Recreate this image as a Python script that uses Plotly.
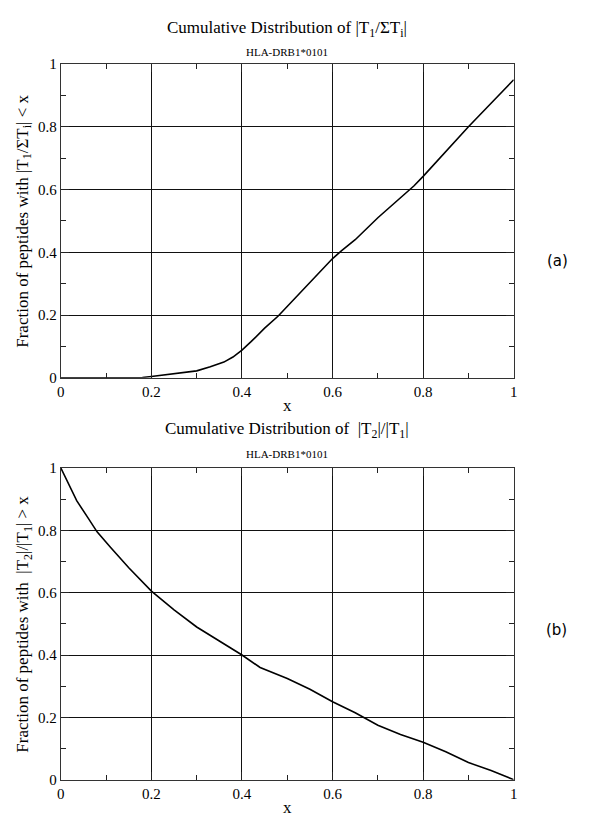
import plotly.graph_objects as go

# Panel (a): cumulative distribution of |T1/sum Ti|
x_a = [0, 0.1, 0.18, 0.2, 0.25, 0.3, 0.33, 0.36, 0.38, 0.4, 0.42, 0.45, 0.48, 0.5,
       0.55, 0.6, 0.62, 0.65, 0.7, 0.75, 0.78, 0.8, 0.85, 0.9, 0.95, 1.0]
y_a = [0, 0, 0.001, 0.004, 0.012, 0.022, 0.035, 0.05, 0.066, 0.088, 0.115, 0.158, 0.197, 0.228,
       0.305, 0.38, 0.405, 0.44, 0.51, 0.575, 0.612, 0.642, 0.722, 0.8, 0.875, 0.95]

# Panel (b): cumulative distribution of |T2|/|T1|
x_b = [0, 0.02, 0.035, 0.06, 0.08, 0.11, 0.15, 0.2, 0.25, 0.3, 0.35, 0.4, 0.44, 0.5,
       0.55, 0.6, 0.65, 0.7, 0.75, 0.8, 0.85, 0.9, 0.95, 1.0]
y_b = [1.0, 0.94, 0.895, 0.84, 0.795, 0.745, 0.68, 0.605, 0.545, 0.49, 0.445, 0.40, 0.36, 0.325,
       0.29, 0.25, 0.215, 0.175, 0.145, 0.12, 0.09, 0.055, 0.03, 0.0]

tick_vals = [0, 0.2, 0.4, 0.6, 0.8, 1]
tick_text = ["0", "0.2", "0.4", "0.6", "0.8", "1"]

W, H = 600, 817
SERIF = "Liberation Serif"

def px_x(p):
    return p / W

def px_y(p):
    return 1 - p / H

fig = go.Figure()
fig.add_trace(go.Scatter(x=x_a, y=y_a, mode="lines", line=dict(color="black", width=1.6),
                         xaxis="x", yaxis="y", showlegend=False, hoverinfo="skip"))
fig.add_trace(go.Scatter(x=x_b, y=y_b, mode="lines", line=dict(color="black", width=1.6),
                         xaxis="x2", yaxis="y2", showlegend=False, hoverinfo="skip"))

x_dom = [px_x(49.5), px_x(508.5)]
ya_dom = [px_y(369), px_y(49)]
yb_dom = [px_y(779), px_y(461)]

def axis_common():
    return dict(
        range=[0, 1], tickvals=tick_vals, ticktext=tick_text,
        showline=True, linecolor="#333333", linewidth=1, mirror="allticks",
        ticks="inside", ticklen=8, tickcolor="#222222",
        showgrid=True, gridcolor="#111111", gridwidth=1,
        zeroline=False,
        minor=dict(dtick=0.1, ticks="inside", ticklen=5, tickcolor="#222222", showgrid=False),
        tickfont=dict(family=SERIF, size=15, color="black"),
        fixedrange=True,
    )

xa = axis_common()
xa.update(domain=x_dom, anchor="y",
          title=dict(text="x", font=dict(family=SERIF, size=17, color="black"), standoff=0))
ya = axis_common()
ya.update(domain=ya_dom, anchor="x")
xb = axis_common()
xb.update(domain=x_dom, anchor="y2",
          title=dict(text="x", font=dict(family=SERIF, size=17, color="black"), standoff=0))
yb = axis_common()
yb.update(domain=yb_dom, anchor="x2")

ann = []
cx = (49.5 + 508.5) / 2 / W
ann.append(dict(text="Cumulative Distribution of |T<sub>1</sub>/ΣT<sub>i</sub>|",
                x=cx, y=px_y(13), xref="paper", yref="paper", showarrow=False,
                font=dict(family=SERIF, size=17, color="black"), xanchor="center", yanchor="middle"))
ann.append(dict(text="HLA-DRB1*0101", x=cx, y=px_y(37), xref="paper", yref="paper",
                showarrow=False, font=dict(family=SERIF, size=11, color="black"),
                xanchor="center", yanchor="middle"))
ann.append(dict(text="Cumulative Distribution of  |T<sub>2</sub>|/|T<sub>1</sub>|",
                x=cx, y=px_y(422), xref="paper", yref="paper", showarrow=False,
                font=dict(family=SERIF, size=17, color="black"), xanchor="center", yanchor="middle"))
ann.append(dict(text="HLA-DRB1*0101", x=cx, y=px_y(447), xref="paper", yref="paper",
                showarrow=False, font=dict(family=SERIF, size=11, color="black"),
                xanchor="center", yanchor="middle"))
ann.append(dict(text="Fraction of peptides with |T<sub>1</sub>/ΣT<sub>i</sub>| &lt; x",
                x=px_x(12), y=px_y(209), xref="paper", yref="paper", showarrow=False,
                textangle=-90, font=dict(family=SERIF, size=17, color="black"),
                xanchor="center", yanchor="middle"))
ann.append(dict(text="Fraction of peptides with  |T<sub>2</sub>|/|T<sub>1</sub>| &gt; x",
                x=px_x(12), y=px_y(620), xref="paper", yref="paper", showarrow=False,
                textangle=-90, font=dict(family=SERIF, size=17, color="black"),
                xanchor="center", yanchor="middle"))
ann.append(dict(text="(a)", x=px_x(553), y=px_y(250), xref="paper", yref="paper",
                showarrow=False, font=dict(family="DejaVu Sans", size=15, color="black"),
                xanchor="center", yanchor="middle"))
ann.append(dict(text="(b)", x=px_x(552), y=px_y(626), xref="paper", yref="paper",
                showarrow=False, font=dict(family="DejaVu Sans", size=15, color="black"),
                xanchor="center", yanchor="middle"))

fig.update_layout(
    width=W, height=H,
    margin=dict(l=0, r=0, t=0, b=0),
    paper_bgcolor="white", plot_bgcolor="white",
    xaxis=xa, yaxis=ya, xaxis2=xb, yaxis2=yb,
    annotations=ann,
    showlegend=False,
)

fig.write_html("out.html")
